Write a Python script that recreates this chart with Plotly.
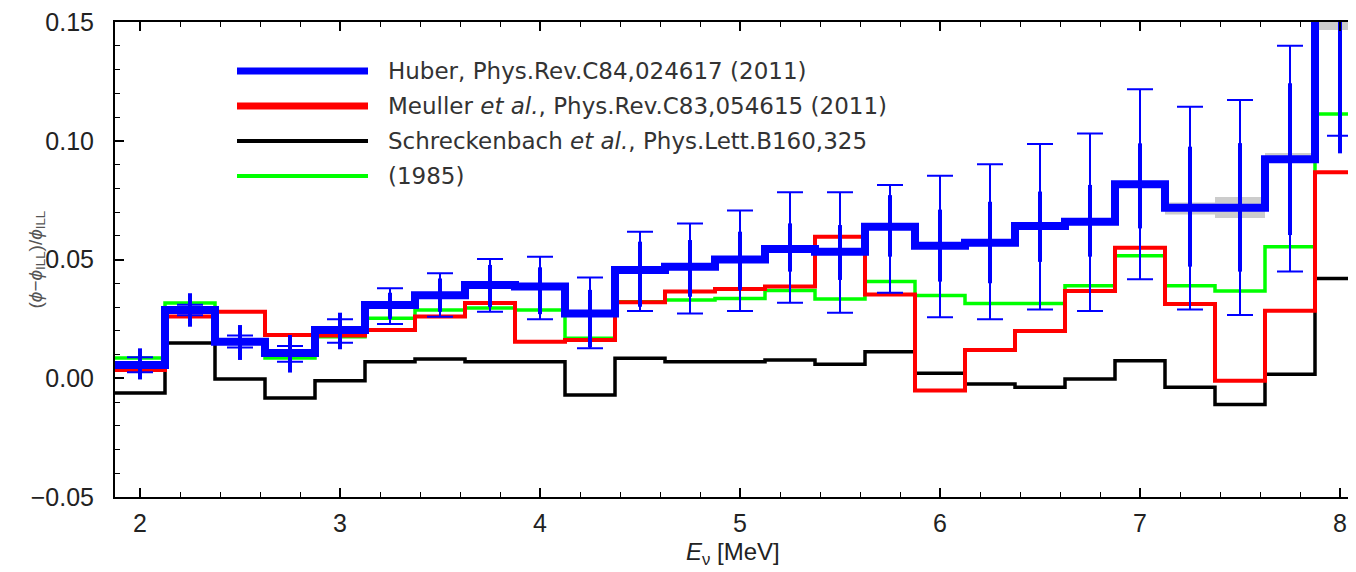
import plotly.graph_objects as go

# bin centres (MeV), 0.25 MeV wide bins
energy = [2.0, 2.25, 2.5, 2.75, 3.0, 3.25, 3.5, 3.75, 4.0, 4.25, 4.5, 4.75, 5.0,
          5.25, 5.5, 5.75, 6.0, 6.25, 6.5, 6.75, 7.0, 7.25, 7.5, 7.75, 8.0]
bin_width = 0.25

huber = [0.0056, 0.0287, 0.0154, 0.0106, 0.0203, 0.0308, 0.0350, 0.0393, 0.0386,
         0.0273, 0.0456, 0.0470, 0.0500, 0.0544, 0.0533, 0.0638, 0.0558, 0.0571,
         0.0641, 0.0659, 0.0817, 0.0718, 0.0718, 0.0922, 0.1600]
huber_band_lo = [0.0046, 0.0277, 0.0144, 0.0096, 0.0193, 0.0298, 0.0340, 0.0383, 0.0376,
                 0.0263, 0.0446, 0.0460, 0.0490, 0.0534, 0.0523, 0.0628, 0.0548, 0.0561,
                 0.0631, 0.0649, 0.0807, 0.0690, 0.0675, 0.0912, 0.1466]
huber_band_hi = [0.0066, 0.0297, 0.0164, 0.0116, 0.0213, 0.0318, 0.0360, 0.0403, 0.0396,
                 0.0283, 0.0466, 0.0480, 0.0510, 0.0554, 0.0543, 0.0648, 0.0568, 0.0581,
                 0.0651, 0.0669, 0.0827, 0.0740, 0.0763, 0.0948, 0.1700]
mueller = [0.0035, 0.0260, 0.0280, 0.0182, 0.0180, 0.0203, 0.0260, 0.0317, 0.0154,
           0.0161, 0.0320, 0.0365, 0.0376, 0.0386, 0.0596, 0.0353, -0.0052, 0.0119,
           0.0199, 0.0367, 0.0550, 0.0313, -0.0010, 0.0284, 0.0867]
schreckenbach = [-0.0062, 0.0148, -0.0003, -0.0083, -0.0010, 0.0070, 0.0081, 0.0070, 0.0070,
                 -0.0071, 0.0084, 0.0070, 0.0070, 0.0077, 0.0059, 0.0112, 0.0021, -0.0024,
                 -0.0038, -0.0003, 0.0074, -0.0038, -0.0110, 0.0017, 0.0420]
ill_1985 = [0.0085, 0.0317, 0.0160, 0.0085, 0.0175, 0.0253, 0.0287, 0.0296, 0.0287,
            0.0168, 0.0322, 0.0330, 0.0336, 0.0369, 0.0334, 0.0407, 0.0348, 0.0315,
            0.0315, 0.0390, 0.0516, 0.0390, 0.0367, 0.0554, 0.1113]

# error bars: capped (thin) and inner (thick) ranges
cap_top = [0.0088, 0.0310, 0.0180, 0.0136, 0.0248, 0.0379, 0.0442, 0.0502, 0.0512,
           0.0424, 0.0617, 0.0652, 0.0706, 0.0783, 0.0783, 0.0814, 0.0853, 0.0901,
           0.0986, 0.1031, 0.1217, 0.1143, 0.1172, 0.1400, 0.1700]
cap_bot = [0.0025, 0.0265, 0.0130, 0.0070, 0.0150, 0.0228, 0.0259, 0.0280, 0.0248,
           0.0126, 0.0283, 0.0273, 0.0283, 0.0318, 0.0276, 0.0360, 0.0257, 0.0248,
           0.0290, 0.0283, 0.0417, 0.0290, 0.0266, 0.0449, 0.1021]
inner_top = [0.0126, 0.0358, 0.0224, 0.0182, 0.0276, 0.0360, 0.0420, 0.0477, 0.0467,
             0.0372, 0.0575, 0.0582, 0.0617, 0.0652, 0.0645, 0.0771, 0.0710, 0.0743,
             0.0786, 0.0814, 0.0989, 0.0975, 0.0990, 0.1242, 0.1700]
inner_bot = [-0.0005, 0.0217, 0.0077, 0.0024, 0.0122, 0.0250, 0.0280, 0.0300, 0.0270,
             0.0130, 0.0301, 0.0343, 0.0372, 0.0449, 0.0414, 0.0512, 0.0407, 0.0400,
             0.0490, 0.0512, 0.0631, 0.0470, 0.0449, 0.0603, 0.0947]

legend_entries = [
    ("Huber, Phys.Rev.C84,024617 (2011)", "#0000ff", 7),
    ("Meuller <i>et al.</i>, Phys.Rev.C83,054615 (2011)", "#ff0000", 7),
    ("Schreckenbach <i>et al.</i>, Phys.Lett.B160,325", "#000000", 4),
    ("(1985)", "#00ff00", 4),
]


def step_xy(vals):
    edges = [e - bin_width / 2 for e in energy] + [energy[-1] + bin_width / 2]
    return edges, list(vals) + [vals[-1]]


fig = go.Figure()

for vals, color, w in [(schreckenbach, "#000000", 3.5), (ill_1985, "#00ff00", 3.5),
                       (mueller, "#ff0000", 4)]:
    xs, ys = step_xy(vals)
    fig.add_trace(go.Scatter(x=xs, y=ys, mode="lines", line=dict(color=color, width=w, shape="hv"),
                             showlegend=False))

# grey uncertainty band behind Huber
xs, lo = step_xy(huber_band_lo)
_, hi = step_xy(huber_band_hi)
fig.add_trace(go.Scatter(x=xs, y=lo, mode="lines", line=dict(color="rgba(0,0,0,0)", width=0, shape="hv"),
                         showlegend=False))
fig.add_trace(go.Scatter(x=xs, y=hi, mode="lines", line=dict(color="rgba(0,0,0,0)", width=0, shape="hv"),
                         fill="tonexty", fillcolor="#cccccc", showlegend=False))

xs, ys = step_xy(huber)
fig.add_trace(go.Scatter(x=xs, y=ys, mode="lines", line=dict(color="#0000ff", width=8, shape="hv"),
                         showlegend=False))

# error bars
for top, bot, thick, capw in [(inner_top, inner_bot, 4, 0), (cap_top, cap_bot, 2, 13)]:
    mid = [(t + b) / 2 for t, b in zip(top, bot)]
    half = [(t - b) / 2 for t, b in zip(top, bot)]
    fig.add_trace(go.Scatter(x=energy, y=mid, mode="markers",
                             marker=dict(color="rgba(0,0,0,0)", size=1),
                             error_y=dict(type="data", array=half, symmetric=True,
                                          color="#0000ff", thickness=thick, width=capw),
                             showlegend=False))

# page has an 8px body margin; work in page pixels and shift
OFF = 8
W, H = 1356 - OFF, 572 - OFF
L, R, T, B = 115, 1356, 22, 497  # plot area in page pixels
for i, (label, color, w) in enumerate(legend_entries):
    py = 71 + 35 * i
    yp = (B - py) / (B - T)
    fig.add_shape(type="line", xref="paper", yref="paper",
                  x0=(237 - L) / (R - L), x1=(368 - L) / (R - L), y0=yp, y1=yp,
                  line=dict(color=color, width=w))
    fig.add_annotation(x=(386 - L) / (R - L), y=yp, xref="paper", yref="paper",
                       text=label, showarrow=False, xanchor="left", yanchor="middle",
                       font=dict(family="DejaVu Sans", size=23, color="#333333"))

# axis titles
fig.add_annotation(x=(733 - L) / (R - L), y=(B - 553) / (B - T), xref="paper", yref="paper",
                   text="<i>E</i><sub>ν</sub> [MeV]", showarrow=False,
                   xanchor="center", yanchor="middle",
                   font=dict(family="Liberation Sans Narrow, Liberation Sans", size=24, color="#222"))
fig.add_annotation(x=(36 - L) / (R - L), y=0.5, xref="paper", yref="paper",
                   text="(<i>ϕ</i>−<i>ϕ</i><sub>ILL</sub>)/<i>ϕ</i><sub>ILL</sub>", showarrow=False,
                   textangle=-90, xanchor="center", yanchor="middle",
                   font=dict(family="Liberation Sans", size=19, color="#555"))

fig.update_xaxes(
    range=[1.875, 8.08], tickmode="linear", tick0=2, dtick=1, automargin=False,
    ticks="inside", ticklen=9, tickwidth=1.5, tickcolor="#000",
    minor=dict(ticks="inside", ticklen=5, dtick=0.2, tick0=2, tickcolor="#000", tickwidth=1),
    showline=True, linecolor="#000", linewidth=2, mirror="ticks",
    showgrid=False, zeroline=False, ticklabeloverflow="allow",
    tickfont=dict(family="Liberation Sans Narrow, Liberation Sans", size=25, color="#222"),
    ticklabelstandoff=3,
)
fig.update_yaxes(
    range=[-0.05, 0.15], tickmode="linear", tick0=-0.05, dtick=0.05, tickformat=".2f",
    automargin=False, ticklabeloverflow="allow",
    ticks="inside", ticklen=9, tickwidth=1.5, tickcolor="#000",
    minor=dict(ticks="inside", ticklen=5, dtick=0.01, tickcolor="#000", tickwidth=1),
    showline=True, linecolor="#000", linewidth=2,
    showgrid=False, zeroline=False,
    tickfont=dict(family="Liberation Sans", size=25, color="#222"),
    ticklabelstandoff=14,
)
fig.update_layout(
    width=W, height=H,
    margin=dict(l=L - OFF, r=W - (R - OFF), t=T - OFF, b=H - (B - OFF)),
    plot_bgcolor="white", paper_bgcolor="white",
    showlegend=False,
)

fig.write_html("out.html")
